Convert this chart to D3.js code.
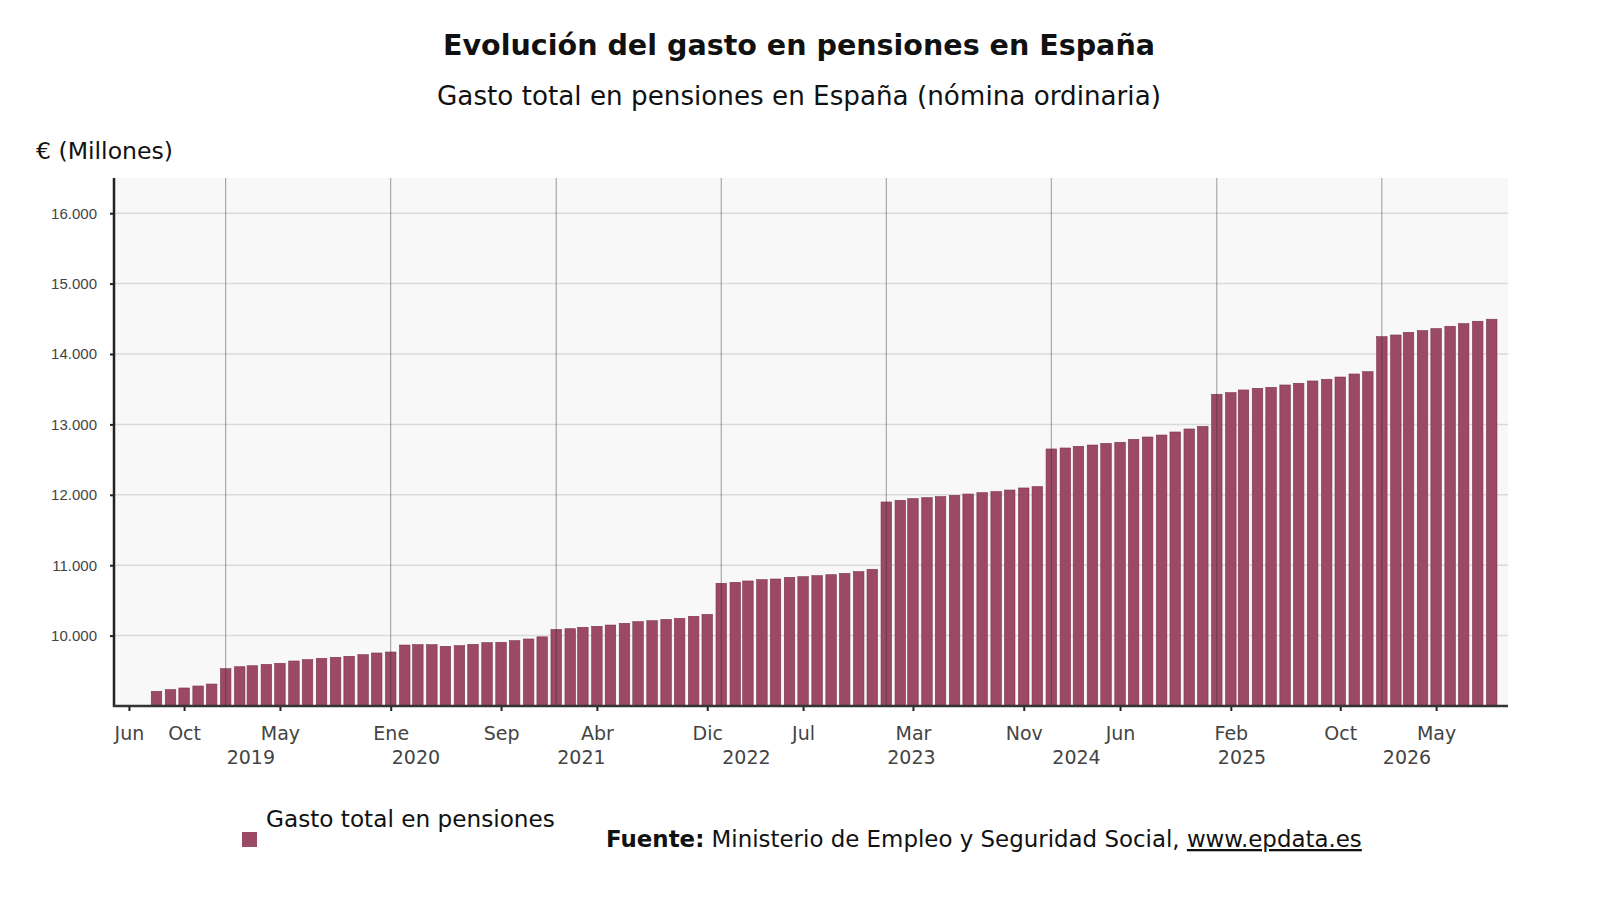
<!DOCTYPE html>
<html>
<head>
<meta charset="utf-8">
<script src="https://cdn.jsdelivr.net/npm/d3@7"></script>
<style>
  body { margin: 0; background: #fff; }
  text { font-family: "DejaVu Sans", sans-serif; }
  .y.axis text { font-family: "Liberation Sans", Arial, sans-serif; }
</style>
</head>
<body>
<script>
// width and height for svg
var w = 1600;
var h = 900;

// plot area (pixels)
var plotLeft = 114;
var plotRight = 1508;
var plotTop = 178;
var plotBottom = 706;

// months of the series (first day of each month)
var months = [
  "2018-08", "2018-09", "2018-10", "2018-11", "2018-12",
  "2019-01", "2019-02", "2019-03", "2019-04", "2019-05", "2019-06", "2019-07", "2019-08", "2019-09", "2019-10", "2019-11", "2019-12",
  "2020-01", "2020-02", "2020-03", "2020-04", "2020-05", "2020-06", "2020-07", "2020-08", "2020-09", "2020-10", "2020-11", "2020-12",
  "2021-01", "2021-02", "2021-03", "2021-04", "2021-05", "2021-06", "2021-07", "2021-08", "2021-09", "2021-10", "2021-11", "2021-12",
  "2022-01", "2022-02", "2022-03", "2022-04", "2022-05", "2022-06", "2022-07", "2022-08", "2022-09", "2022-10", "2022-11", "2022-12",
  "2023-01", "2023-02", "2023-03", "2023-04", "2023-05", "2023-06", "2023-07", "2023-08", "2023-09", "2023-10", "2023-11", "2023-12",
  "2024-01", "2024-02", "2024-03", "2024-04", "2024-05", "2024-06", "2024-07", "2024-08", "2024-09", "2024-10", "2024-11", "2024-12",
  "2025-01", "2025-02", "2025-03", "2025-04", "2025-05", "2025-06", "2025-07", "2025-08", "2025-09", "2025-10", "2025-11", "2025-12",
  "2026-01", "2026-02", "2026-03", "2026-04", "2026-05", "2026-06", "2026-07", "2026-08", "2026-09"
];

// total pension spending, millions of euros
var gasto = [
  9209, 9232, 9256, 9284, 9312,
  9530, 9558, 9572, 9592, 9606, 9639, 9658, 9677, 9692, 9706, 9729, 9753,
  9767, 9866, 9871, 9871, 9848, 9857, 9876, 9900, 9905, 9928, 9952, 9982,
  10087, 10098, 10118, 10132, 10150, 10174, 10198, 10212, 10231, 10245, 10274, 10302,
  10743, 10757, 10776, 10795, 10804, 10828, 10837, 10851, 10865, 10884, 10908, 10942,
  11898, 11922, 11946, 11960, 11974, 11993, 12011, 12030, 12045, 12068, 12097, 12116,
  12651, 12665, 12688, 12707, 12731, 12746, 12788, 12821, 12849, 12892, 12935, 12972,
  13428, 13451, 13489, 13513, 13527, 13560, 13584, 13617, 13641, 13673, 13716, 13749,
  14246, 14270, 14308, 14332, 14361, 14394, 14432, 14465, 14494
];

// x axis ticks and labels
var tickMonths = ["2018-06", "2018-10", "2019-05", "2020-01", "2020-09", "2021-04", "2021-12",
                  "2022-07", "2023-03", "2023-11", "2024-06", "2025-02", "2025-10", "2026-05"];
var tickLabels = ["Jun", "Oct", "May", "Ene", "Sep", "Abr", "Dic",
                  "Jul", "Mar", "Nov", "Jun", "Feb", "Oct", "May"];
var years = [2019, 2020, 2021, 2022, 2023, 2024, 2025, 2026];

// y axis ticks
var yTicks = [10000, 11000, 12000, 13000, 14000, 15000, 16000];

var parseMonth = d3.timeParse("%Y-%m");

// spanish number format: 16.000
var es = d3.formatLocale({decimal: ",", thousands: ".", grouping: [3], currency: ["", " €"]});
var fmt = es.format(",.0f");

// shrinks or grows a text so it spans the given width
function fitWidth(sel, width) {
  var size = parseFloat(sel.style("font-size"));
  var len = sel.node().getComputedTextLength();
  sel.style("font-size", (size * width / len).toFixed(2) + "px");
}

window.onload = function() {

  var svg = d3.select("body")
              .append("svg")
              .attr("width", w)
              .attr("height", h);

  var data = months.map(function(m, i) {
    return {date: parseMonth(m), value: gasto[i]};
  });

  // scales
  var xScale = d3.scaleTime()
                 .domain([new Date(2018, 3, 29), new Date(2026, 9, 7)])
                 .range([plotLeft, plotRight]);

  var yScale = d3.scaleLinear()
                 .domain([9000, 16500])
                 .range([plotBottom, plotTop]);

  // plot background
  svg.append("rect")
     .attr("x", plotLeft)
     .attr("y", plotTop)
     .attr("width", plotRight - plotLeft)
     .attr("height", plotBottom - plotTop)
     .attr("fill", "#f8f8f8");

  // horizontal grid
  svg.append("g")
     .selectAll("line")
     .data(yTicks)
     .enter()
     .append("line")
     .attr("x1", plotLeft)
     .attr("x2", plotRight)
     .attr("y1", d => yScale(d))
     .attr("y2", d => yScale(d))
     .attr("stroke", "#dadada")
     .attr("stroke-width", 1.5);

  // bars, one per month, centred on the first day of the month
  var bw = (xScale(parseMonth("2019-02")) - xScale(parseMonth("2019-01"))) * 0.75;

  svg.append("g")
     .selectAll("rect")
     .data(data)
     .enter()
     .append("rect")
     .attr("x", d => xScale(d.date) - bw / 2)
     .attr("y", d => yScale(d.value))
     .attr("width", bw)
     .attr("height", d => plotBottom - yScale(d.value))
     .attr("fill", "#9b4964")
     .attr("stroke", "#7e3450")
     .attr("stroke-width", 0.6);

  // vertical lines at the start of each year
  svg.append("g")
     .selectAll("line")
     .data(years)
     .enter()
     .append("line")
     .attr("x1", d => xScale(new Date(d, 0, 1)))
     .attr("x2", d => xScale(new Date(d, 0, 1)))
     .attr("y1", plotTop)
     .attr("y2", plotBottom)
     .attr("stroke", "rgba(40,40,40,0.45)")
     .attr("stroke-width", 1);

  // y axis
  var yAxis = svg.append("g")
     .attr("class", "y axis")
     .attr("transform", "translate(" + plotLeft + ",0)")
     .call(d3.axisLeft(yScale).tickValues(yTicks).tickFormat(fmt).tickSize(4).tickPadding(13));

  yAxis.select(".domain").remove();
  yAxis.selectAll(".tick line").attr("stroke", "#222").attr("stroke-width", 2);
  yAxis.selectAll("text")
       .style("font-size", "15px")
       .attr("fill", "#444");

  // x axis
  var xAxis = svg.append("g")
     .attr("class", "x axis")
     .attr("transform", "translate(0," + plotBottom + ")")
     .call(d3.axisBottom(xScale)
             .tickValues(tickMonths.map(parseMonth))
             .tickFormat((d, i) => tickLabels[i])
             .tickSize(5)
             .tickPadding(16));

  xAxis.select(".domain").remove();
  xAxis.selectAll(".tick line").attr("stroke", "#222").attr("stroke-width", 2);
  xAxis.selectAll("text")
       .style("font-size", "19px")
       .attr("fill", "#444");

  // year labels under the months
  svg.append("g")
     .selectAll("text")
     .data(years)
     .enter()
     .append("text")
     .attr("x", d => xScale(new Date(d, 0, 1)) + 1)
     .attr("y", 764)
     .style("font-size", "19px")
     .attr("fill", "#444")
     .text(d => d);

  // axis lines
  svg.append("line")
     .attr("x1", plotLeft).attr("x2", plotLeft)
     .attr("y1", plotTop).attr("y2", plotBottom + 1)
     .attr("stroke", "#222").attr("stroke-width", 2.5);

  svg.append("line")
     .attr("x1", plotLeft - 1).attr("x2", plotRight)
     .attr("y1", plotBottom).attr("y2", plotBottom)
     .attr("stroke", "#333").attr("stroke-width", 2.5);

  // title and subtitle
  var title = svg.append("text")
     .attr("x", 799)
     .attr("y", 55)
     .attr("text-anchor", "middle")
     .style("font-size", "29px")
     .style("font-weight", "700")
     .attr("fill", "#111")
     .text("Evolución del gasto en pensiones en España");
  fitWidth(title, 712);

  var subtitle = svg.append("text")
     .attr("x", 799)
     .attr("y", 105)
     .attr("text-anchor", "middle")
     .style("font-size", "25px")
     .attr("fill", "#111")
     .text("Gasto total en pensiones en España (nómina ordinaria)");
  fitWidth(subtitle, 724);

  // unit label
  var unit = svg.append("text")
     .attr("x", 36)
     .attr("y", 159)
     .style("font-size", "22px")
     .attr("fill", "#111")
     .text("€ (Millones)");
  fitWidth(unit, 137);

  // legend
  svg.append("rect")
     .attr("x", 242)
     .attr("y", 832)
     .attr("width", 15)
     .attr("height", 15)
     .attr("fill", "#9b4964");

  var legendText = svg.append("text")
     .attr("x", 266)
     .attr("y", 827)
     .style("font-size", "22px")
     .attr("fill", "#111")
     .text("Gasto total en pensiones");
  fitWidth(legendText, 289);

  // source
  var source = svg.append("text")
     .attr("x", 606)
     .attr("y", 847)
     .style("font-size", "22px")
     .attr("fill", "#111");

  source.append("tspan").style("font-weight", "700").text("Fuente:");
  source.append("tspan").text(" Ministerio de Empleo y Seguridad Social, ");
  source.append("tspan").style("text-decoration", "underline").text("www.epdata.es");
  fitWidth(source, 756);
};
</script>
</body>
</html>
